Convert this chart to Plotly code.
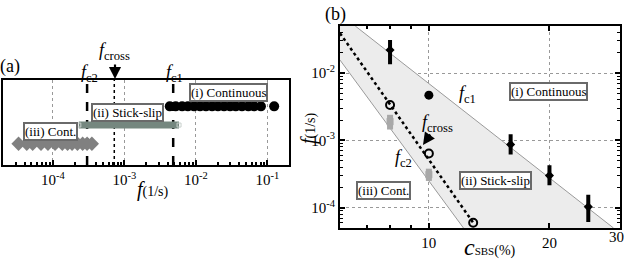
import plotly.graph_objects as go
import numpy as np

W, H = 624, 259
SERIF = "Times New Roman"

# ---------- Panel (a) data ----------
cont_f = [4.3e-3, 5.2e-3, 6.4e-3, 7.7e-3, 9.4e-3, 0.0114, 0.0138, 0.0168, 0.0203,
          0.0247, 0.030, 0.036, 0.044, 0.054, 0.065, 0.081, 0.124]
cont3_f = [3.3e-5, 4.3e-5, 5.2e-5, 6.8e-5, 8.5e-5, 1.07e-4, 1.35e-4, 1.6e-4, 1.85e-4,
           2.2e-4, 2.6e-4, 3.0e-4, 3.5e-4]
stick_f = [2.3e-4, 5.8e-3]
row_level = {"cont": 0.69, "stick": 0.47, "cont3": 0.25}
f_c2, f_cross, f_c1 = 3.0e-4, 7.2e-4, 4.8e-3
a_major = [1e-4, 1e-3, 1e-2, 1e-1]
a_major_text = ["10<sup>-4</sup>", "10<sup>-3</sup>", "10<sup>-2</sup>", "10<sup>-1</sup>"]

# ---------- Panel (b) data ----------
c1_c = [8, 10, 16, 20, 25]
c1_f = [0.022, 4.7e-3, 8.7e-4, 3.0e-4, 1.03e-4]
c1_up = [0.029, 4.7e-3, 1.15e-3, 4.0e-4, 1.45e-4]
c1_lo = [0.0145, 4.7e-3, 6.6e-4, 2.3e-4, 6.6e-5]
c2_c = [8, 10]
c2_f = [1.9e-3, 3.1e-4]
c2_up = [2.4e-3, 3.8e-4]
c2_lo = [1.45e-3, 2.5e-4]
cross_c = [8, 10, 12.9]
cross_f = [3.36e-3, 6.4e-4, 6.0e-5]
fit_c1_c, fit_c1_f = [6.55, 28.9], [0.05, 5e-5]
fit_c2_c, fit_c2_f = [6.0, 12.2], [0.0156, 5e-5]
fit_x_c, fit_x_f = [6.0, 12.9], [0.039, 6.0e-5]
b_xrange = [6, 30]
b_yrange = [5e-5, 0.05]
b_ymajor = [1e-4, 1e-3, 1e-2]
b_ymajor_text = ["10<sup>-4</sup>", "10<sup>-3</sup>", "10<sup>-2</sup>"]
b_xmajor = [10, 20, 30]


def P(x, y):
    return x / W, 1 - y / H


fig = go.Figure()

# ---- Panel (a) ----
for xv, dash, wd in [(f_c2, "dash", 2.5), (f_cross, "dot", 1.5), (f_c1, "dash", 2.5)]:
    fig.add_trace(go.Scatter(x=[xv, xv], y=[0, 1], mode="lines", xaxis="x", yaxis="y",
                             line=dict(color="black", dash=dash, width=wd),
                             showlegend=False, hoverinfo="skip"))

fig.add_trace(go.Scatter(x=stick_f, y=[row_level["stick"]] * 2, mode="lines+markers",
                         xaxis="x", yaxis="y",
                         line=dict(color="#75877f", width=7),
                         marker=dict(symbol="square-open", size=4, color="#c8d0cc"),
                         showlegend=False))
fig.add_trace(go.Scatter(x=cont_f, y=[row_level["cont"]] * len(cont_f), mode="markers",
                         xaxis="x", yaxis="y",
                         marker=dict(symbol="circle", size=10, color="black"),
                         showlegend=False))
fig.add_trace(go.Scatter(x=cont3_f, y=[row_level["cont3"]] * len(cont3_f), mode="markers",
                         xaxis="x", yaxis="y",
                         marker=dict(symbol="diamond", size=11, color="#808080"),
                         showlegend=False))

# ---- Panel (b) ----
poly_x = [fit_c2_c[0], b_xrange[0], fit_c1_c[0], fit_c1_c[1], fit_c2_c[1], fit_c2_c[0]]
poly_y = [fit_c2_f[0], b_yrange[1], fit_c1_f[0], fit_c1_f[1], fit_c2_f[1], fit_c2_f[0]]
fig.add_trace(go.Scatter(x=poly_x, y=poly_y, mode="none", fill="toself",
                         fillcolor="#ececec", xaxis="x2", yaxis="y2",
                         showlegend=False, hoverinfo="skip"))
for cx, fy in [(fit_c1_c, fit_c1_f), (fit_c2_c, fit_c2_f)]:
    fig.add_trace(go.Scatter(x=cx, y=fy, mode="lines", xaxis="x2", yaxis="y2",
                             line=dict(color="#9a9a9a", width=1),
                             showlegend=False, hoverinfo="skip"))
fig.add_trace(go.Scatter(x=fit_x_c, y=fit_x_f, mode="lines", xaxis="x2", yaxis="y2",
                         line=dict(color="black", dash="dot", width=2.5),
                         showlegend=False, hoverinfo="skip"))

fig.add_trace(go.Scatter(
    x=c2_c, y=c2_f, mode="markers", xaxis="x2", yaxis="y2",
    marker=dict(symbol="square", size=7, color="#a8a8a8"),
    error_y=dict(type="data", symmetric=False,
                 array=[u - v for u, v in zip(c2_up, c2_f)],
                 arrayminus=[v - l for v, l in zip(c2_f, c2_lo)],
                 color="#a8a8a8", thickness=6, width=0),
    showlegend=False))

ebar_c = [c for c, u, l in zip(c1_c, c1_up, c1_lo) if u != l]
ebar_f = [f for f, u, l in zip(c1_f, c1_up, c1_lo) if u != l]
ebar_up = [u - f for f, u, l in zip(c1_f, c1_up, c1_lo) if u != l]
ebar_lo = [f - l for f, u, l in zip(c1_f, c1_up, c1_lo) if u != l]
fig.add_trace(go.Scatter(
    x=ebar_c, y=ebar_f, mode="markers", xaxis="x2", yaxis="y2",
    marker=dict(symbol="diamond", size=7, color="black"),
    error_y=dict(type="data", symmetric=False, array=ebar_up, arrayminus=ebar_lo,
                 color="black", thickness=4, width=2),
    showlegend=False))
dot_c = [c for c, u, l in zip(c1_c, c1_up, c1_lo) if u == l]
dot_f = [f for f, u, l in zip(c1_f, c1_up, c1_lo) if u == l]
fig.add_trace(go.Scatter(x=dot_c, y=dot_f, mode="markers", xaxis="x2", yaxis="y2",
                         marker=dict(symbol="circle", size=9, color="black"),
                         showlegend=False))
fig.add_trace(go.Scatter(x=cross_c, y=cross_f, mode="markers", xaxis="x2", yaxis="y2",
                         marker=dict(symbol="circle-open", size=8, color="black",
                                     line=dict(width=2)),
                         showlegend=False))

# ---------- minor ticks ----------
def minors(lo, hi):
    out = []
    for d in range(lo, hi):
        for k in range(2, 10):
            out.append(k * 10.0 ** d)
    return out

tickfont = dict(family=SERIF, size=15, color="black")
B_LEFT, B_RIGHT = 340, 620

fig.update_layout(
    width=W, height=H, margin=dict(l=0, r=0, t=0, b=0),
    paper_bgcolor="white", plot_bgcolor="white",
    font=dict(family=SERIF, color="black"),
    xaxis=dict(type="log", domain=[3 / W, 289 / W], range=[np.log10(2e-5), np.log10(0.2)],
               tickmode="array", tickvals=a_major, ticktext=a_major_text,
               ticks="inside", ticklen=5, tickwidth=1.5, tickcolor="black",
               minor=dict(tickmode="array", tickvals=minors(-5, 0), ticks="inside",
                          ticklen=3, tickwidth=1.5, tickcolor="black", showgrid=False),
               showgrid=True, gridcolor="#999999", griddash="dot", gridwidth=1,
               showline=True, linecolor="black", linewidth=2, mirror=True,
               tickfont=tickfont, zeroline=False, anchor="y"),
    yaxis=dict(domain=[1 - 165 / H, 1 - 80 / H], range=[0, 1], showticklabels=False,
               ticks="", showgrid=False, zeroline=False,
               showline=True, linecolor="black", linewidth=2, mirror=True, anchor="x"),
    xaxis2=dict(type="log", domain=[B_LEFT / W, B_RIGHT / W],
                range=[np.log10(b_xrange[0]), np.log10(b_xrange[1])],
                tickmode="array", tickvals=b_xmajor[:-1],
                ticktext=[str(v) for v in b_xmajor[:-1]],
                ticks="inside", ticklen=5, tickwidth=1.5, tickcolor="black",
                minor=dict(tickmode="array", tickvals=[7, 8, 9], ticks="inside",
                           ticklen=3, tickwidth=1.5, tickcolor="black", showgrid=False),
                showgrid=True, gridcolor="#999999", griddash="dot", gridwidth=1,
                showline=True, linecolor="black", linewidth=2, mirror="allticks",
                tickfont=tickfont, zeroline=False, anchor="y2"),
    yaxis2=dict(type="log", domain=[1 - 228 / H, 1 - 26 / H],
                range=[np.log10(b_yrange[0]), np.log10(b_yrange[1])],
                tickmode="array", tickvals=b_ymajor, ticktext=b_ymajor_text,
                ticks="inside", ticklen=5, tickwidth=1.5, tickcolor="black",
                minor=dict(tickmode="array", tickvals=minors(-5, -1), ticks="inside",
                           ticklen=3, tickwidth=1, tickcolor="black", showgrid=False),
                showgrid=True, gridcolor="#999999", griddash="dot", gridwidth=1,
                showline=True, linecolor="black", linewidth=2, mirror="allticks",
                tickfont=tickfont, zeroline=False, anchor="x2"),
)

ann = []


def text(x, y, s, size=15, **kw):
    px_, py_ = P(x, y)
    d = dict(x=px_, y=py_, xref="paper", yref="paper", text=s, showarrow=False,
             font=dict(family=SERIF, size=size, color="black"),
             xanchor="center", yanchor="middle")
    d.update(kw)
    ann.append(d)


def box(x, y, s):
    text(x, y, s, size=13, bordercolor="#6a6a6a", borderwidth=2, bgcolor="white",
         borderpad=0)


def arrow(x0, y0, x1, y1):
    px1, py1 = P(x1, y1)
    ann.append(dict(x=px1, y=py1, xref="paper", yref="paper", ax=x0 - x1, ay=y0 - y1,
                    text=" ", showarrow=True, arrowhead=2, arrowsize=1.1,
                    arrowwidth=2.2, arrowcolor="black", font=dict(size=2)))


# last x tick label of panel (b) sits on the frame edge: drawn as an annotation
text(616, 237, str(b_xmajor[-1]), size=15)

# Panel (a) text
text(10, 67, "(a)", size=18)
text(89, 73, "<i>f</i><sub>c2</sub>", size=18)
text(114, 51, "<i>f</i><sub>cross</sub>", size=18)
text(174, 73, "<i>f</i><sub>c1</sub>", size=18)
arrow(115, 62, 115, 79)
box(229, 93, "(i) Continuous")
box(127, 112, "(ii) Stick-slip")
box(50, 131, "(iii) Cont.")
text(153, 189, "<i>f</i><span style='font-size:14px'>(1/s)</span>", size=20)

# Panel (b) text
text(335, 14, "(b)", size=18)
text(467, 95, "<i>f</i><sub>c1</sub>", size=18)
text(438, 124, "<i>f</i><sub>cross</sub>", size=18)
arrow(432, 132, 423, 145)
text(403, 158, "<i>f</i><sub>c2</sub>", size=18)
box(548, 92, "(i) Continuous")
box(495, 180, "(ii) Stick-slip")
box(383, 190, "(iii) Cont.")
text(308, 128, "<i>f</i><span style='font-size:14px'>(1/s)</span>", size=20, textangle=-90)
text(490, 247, "<i>c</i><span style='font-size:11px'>SBS</span><span style='font-size:14px'>(%)</span>", size=24)

fig.update_layout(annotations=ann)
fig.write_html("out.html")
